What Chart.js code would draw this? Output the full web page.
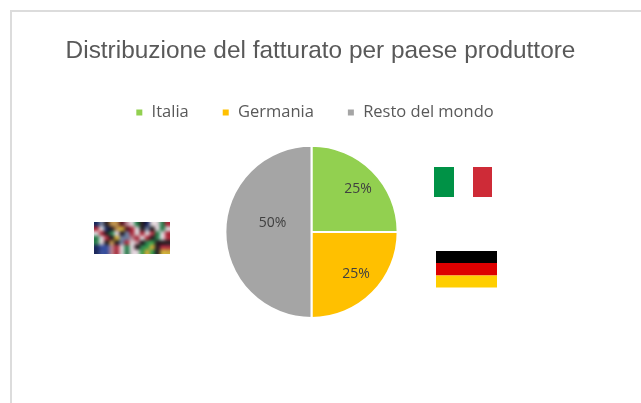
<!DOCTYPE html>
<html>
<head>
<meta charset="utf-8">
<style>
html,body{margin:0;padding:0;background:#fff;width:641px;height:403px;overflow:hidden}
#wrap{position:absolute;left:0;top:0;width:641px;height:403px}
canvas{display:block}
</style>
<script src="https://cdn.jsdelivr.net/npm/chart.js@4/dist/chart.umd.min.js"></script>
</head>
<body>
<div id="wrap"><canvas id="c" width="641" height="403"></canvas></div>
<script>
const chartTitle = 'Distribuzione del fatturato per paese produttore';
const categories = ['Italia', 'Germania', 'Resto del mondo'];
const shares = [25, 25, 50];
const sliceColors = ['#92D050', '#FFC000', '#A5A5A5'];
const labelNudge = [[16, -12], [14, 12], [4, -9]];

const mosaicPalette = {n:'#1d2a5c',r:'#a83040',w:'#d8d0d4',k:'#2a2024',o:'#b58a4a',g:'#2f7d4f',y:'#c9a83a',b:'#3a4f9a',p:'#b5808c',s:'#6f7a98',d:'#5a1a22',l:'#3f9a4a'};
const mosaicRows = [
  'nskoodpwgknwwgr',
  'rwnkoydrwkskwgw',
  'wrkgwksrwrwrgwr',
  'gwrkyssprwrkgwr',
  'gwkoksrwpkglkkk',
  'nbbprwgwkglykrr',
  'nbbprwgwwlylkyy'
];

const decorations = {
  id: 'decorations',
  afterLayout(chart) {
    chart.titleBlock.left += 9; chart.titleBlock.right += 9;
    chart.legend.left += 3; chart.legend.right += 3;
    chart.legend.top -= 1; chart.legend.bottom -= 1;
    chart.chartArea.top += 13;
    chart.chartArea.height -= 13;
  },
  beforeDraw(chart) {
    const c = chart.ctx;
    c.save();
    c.fillStyle = '#fff'; c.fillRect(0, 0, 641, 403);
    c.fillStyle = '#dcdcdc';
    c.fillRect(10, 10, 631, 2);
    c.fillRect(10, 10, 2, 393);
    c.restore();
  },
  afterDraw(chart) {
    const c = chart.ctx;
    c.save();
    c.fillStyle = '#009246'; c.fillRect(434, 167, 20, 30);
    c.fillStyle = '#CE2B37'; c.fillRect(473, 167, 19, 30);
    c.fillStyle = '#000000'; c.fillRect(436, 251, 61, 12);
    c.fillStyle = '#DD0000'; c.fillRect(436, 263, 61, 12.5);
    c.fillStyle = '#FFCE00'; c.fillRect(436, 275.5, 61, 12);
    const off = document.createElement('canvas');
    off.width = mosaicRows[0].length; off.height = mosaicRows.length;
    const o = off.getContext('2d');
    mosaicRows.forEach((row, y) => [...row].forEach((ch, x) => {
      o.fillStyle = mosaicPalette[ch]; o.fillRect(x, y, 1, 1);
    }));
    c.imageSmoothingEnabled = true;
    c.imageSmoothingQuality = 'high';
    c.drawImage(off, 94, 222, 76, 32);
    const meta = chart.getDatasetMeta(0);
    c.font = '14px "Open Sans"';
    c.fillStyle = '#404040';
    c.textAlign = 'center';
    c.textBaseline = 'middle';
    meta.data.forEach((arc, i) => {
      const p = arc.tooltipPosition();
      c.fillText(shares[i] + '%', p.x + labelNudge[i][0], p.y + labelNudge[i][1]);
    });
    c.restore();
  }
};

new Chart(document.getElementById('c'), {
  type: 'pie',
  data: {
    labels: categories,
    datasets: [{
      data: shares,
      backgroundColor: sliceColors,
      borderColor: '#ffffff',
      borderWidth: 2
    }]
  },
  options: {
    responsive: false,
    animation: false,
    events: [],
    layout: { padding: { left: 0, right: 18, top: 0, bottom: 84 } },
    plugins: {
      tooltip: { enabled: false },
      title: {
        display: true,
        text: chartTitle,
        color: '#595959',
        font: { family: '"Liberation Sans"', size: 24.4, weight: 'normal' },
        padding: { top: 37, bottom: 6 }
      },
      legend: {
        position: 'top',
        labels: {
          boxWidth: 8,
          boxHeight: 8,
          padding: 33,
          color: '#595959',
          font: { family: '"Open Sans"', size: 16.5 }
        }
      }
    }
  },
  plugins: [decorations]
});
</script>
</body>
</html>
